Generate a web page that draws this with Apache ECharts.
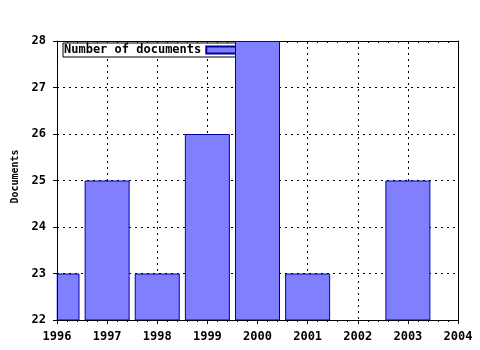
<!DOCTYPE html>
<html><head><meta charset="utf-8">
<script src="https://cdn.jsdelivr.net/npm/echarts@6/dist/echarts.min.js"></script>
<style>html,body{margin:0;padding:0;background:#fff}#c{width:480px;height:350px}</style>
</head><body><div id="c"></div>
<script>
const years = [1996, 1997, 1998, 1999, 2000, 2001, 2002, 2003];
const documents = [23, 25, 23, 26, 28, 23, null, 25];
const yTicks = [22, 23, 24, 25, 26, 27, 28];
const seriesName = 'Number of documents';
const yTitle = 'Documents';

const chart = echarts.init(document.getElementById('c'), null, {renderer: 'canvas'});
const mono = 'DejaVu Sans Mono';
const lbl = {color: '#000', fontFamily: mono, fontWeight: 'bold', fontSize: 12};
const dotted = {color: '#000', type: [2, 4], width: 1};
chart.setOption({
  animation: false,
  backgroundColor: '#fff',
  grid: {left: 57, right: 22, top: 41, bottom: 30, containLabel: false, outerBoundsMode: 'none'},
  graphic: [{
    type: 'rect', z: 3, silent: true,
    shape: {x: 0, y: 30, width: 56.5, height: 295},
    style: {fill: '#fff'}
  }],
  legend: {
    z: 1, left: 63, top: 43, orient: 'horizontal', align: 'right',
    backgroundColor: '#fff', borderColor: '#000', borderWidth: 1, borderRadius: 0,
    padding: [1, 1, 1, 1], itemWidth: 30, itemHeight: 7, icon: 'rect',
    textStyle: {color: '#000', fontFamily: mono, fontWeight: 'bold', fontSize: 12, lineHeight: 12},
    data: [seriesName]
  },
  xAxis: [{
    type: 'value', min: 1996, max: 2004, interval: 1, position: 'bottom', z: 4,
    axisLine: {show: true, onZero: false, lineStyle: {color: '#000', width: 1}},
    axisTick: {show: true, inside: false, length: 4, lineStyle: {color: '#000'}},
    minorTick: {show: true, splitNumber: 5, length: 2, lineStyle: {color: '#000'}},
    axisLabel: Object.assign({margin: 11, formatter: v => String(v)}, lbl),
    splitLine: {show: false}
  }, {
    type: 'value', min: 1996, max: 2004, interval: 1, position: 'top', z: 0,
    axisLine: {show: true, onZero: false, lineStyle: {color: '#000', width: 1}},
    axisTick: {show: true, inside: true, length: 3, lineStyle: {color: '#000'}},
    minorTick: {show: true, splitNumber: 5, length: 2, lineStyle: {color: '#000'}},
    axisLabel: {show: false},
    splitLine: {show: true, lineStyle: dotted}
  }],
  yAxis: [{
    type: 'value', min: 22, max: 28, interval: 1, position: 'left', z: 4,
    name: yTitle, nameLocation: 'middle', nameGap: 37, nameRotate: 90,
    nameTextStyle: {color: '#000', fontFamily: mono, fontWeight: 'bold', fontSize: 10, padding: [0, 0, 0, 8]},
    axisLine: {show: true, onZero: false, lineStyle: {color: '#000', width: 1}},
    axisTick: {show: true, inside: false, length: 4, lineStyle: {color: '#000'}},
    axisLabel: Object.assign({margin: 11, formatter: v => String(v)}, lbl),
    splitLine: {show: false}
  }, {
    type: 'value', min: 22, max: 28, interval: 1, position: 'right', z: 0,
    axisLine: {show: true, onZero: false, lineStyle: {color: '#000', width: 1}},
    axisTick: {show: false}, axisLabel: {show: false},
    splitLine: {show: true, lineStyle: dotted}
  }],
  series: [{
    name: seriesName, type: 'bar', z: 2, clip: true,
    barWidth: 45,
    itemStyle: {color: '#8080ff', borderColor: '#0000a0', borderWidth: 1},
    data: years.map((y, i) => [y, documents[i]])
  }]
});
</script></body></html>
